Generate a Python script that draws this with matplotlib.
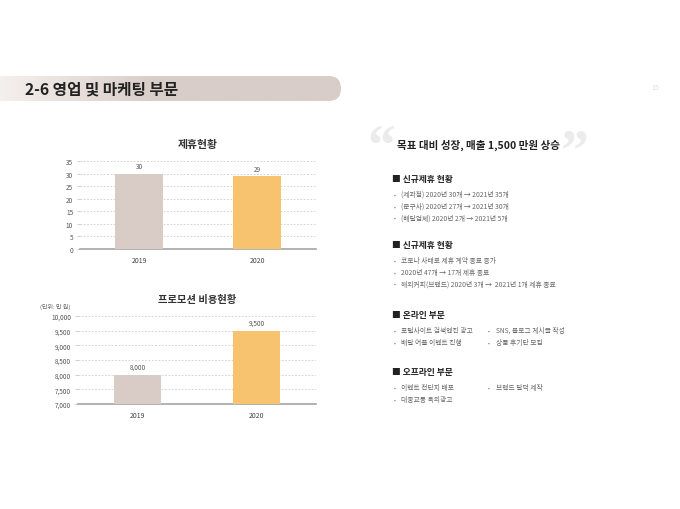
import matplotlib
matplotlib.use("Agg")
import matplotlib.pyplot as plt
import numpy as np
from matplotlib.patches import FancyBboxPatch
from matplotlib.ticker import FuncFormatter

plt.rcParams['font.family'] = ['Noto Sans CJK KR', 'DejaVu Sans']

# ---- data ----
years = ["2019", "2020"]
partner_counts = [30, 29]
promo_costs = [8000, 9500]
partner_ticks = [0, 5, 10, 15, 20, 25, 30, 35]
promo_ticks = [7000, 7500, 8000, 8500, 9000, 9500, 10000]
bar_colors = ["#D9CCC6", "#F7C36E"]

page_title = "2-6 영업 및 마케팅 부문"
chart1_title = "제휴현황"
chart2_title = "프로모션 비용현황"
unit_label = "(단위: 만 원)"
headline = "목표 대비 성장, 매출 1,500 만원 상승"
sections = [
    ("신규제휴 현황", ["(제과점) 2020년 30개 → 2021년 35개",
                    "(문구사) 2020년 27개 → 2021년 30개",
                    "(배달업체) 2020년 2개 → 2021년 5개"], None),
    ("신규제휴 현황", ["코로나 사태로 제휴 계약 종료 증가",
                    "2020년 47개 → 17개 제휴 종료",
                    "해외커피(브랜드) 2020년 3개 →  2021년 1개 제휴 종료"], None),
    ("온라인 부문", ["포털사이트 검색엔진 광고", "배달 어플 이벤트 진행"],
     ["SNS, 블로그 게시글 작성", "상품 후기단 모집"]),
    ("오프라인 부문", ["이벤트 전단지 배포", "대중교통 옥외광고"],
     ["브랜드 달력 제작"]),
]
section_y = [180, 246, 316, 373]

W, H = 680, 510
fig = plt.figure(figsize=(W / 100, H / 100), dpi=100)
fig.patch.set_facecolor("white")


def fx(x):
    return x / W


def fy(y):
    return 1 - y / H


# ---- banner ----
bax = fig.add_axes([0, 0, 1, 1], zorder=0)
bax.set_xlim(0, W)
bax.set_ylim(H, 0)
bax.axis("off")
grad = np.linspace(0, 1, 256)
grad = np.clip(grad * 2.2, 0, 1)
c0 = np.array([0xF4, 0xF0, 0xEE]) / 255
c1 = np.array([0xD9, 0xCD, 0xC8]) / 255
img = c0[None, None, :] * (1 - grad[None, :, None]) + c1[None, None, :] * grad[None, :, None]
im = bax.imshow(img, extent=[0, 341, 102, 77], aspect="auto", zorder=1)
clip = FancyBboxPatch((-20, 77), 361, 25, boxstyle="round,pad=0,rounding_size=12.5",
                      transform=bax.transData, facecolor="none", edgecolor="none")
bax.add_patch(clip)
im.set_clip_path(clip)
bax.text(25, 90, page_title, fontsize=11.3, fontweight="bold", color="#222222",
         va="center", ha="left")
bax.text(655, 88, "15", fontsize=5, color="#DDDDDD", va="center", ha="center")

# quotes
bax.text(395, 164, "\u201C", fontsize=40, color="#EBEBEB", ha="right", va="baseline",
         fontweight="bold", family="Liberation Serif")
bax.text(561, 169, "\u201D", fontsize=40, color="#EBEBEB", ha="left", va="baseline",
         fontweight="bold", family="Liberation Serif")
bax.text(397, 145, headline, fontsize=7.6, fontweight="bold", color="#222222",
         va="center", ha="left")

# sections
for (head, col1, col2), y0 in zip(sections, section_y):
    bax.text(392, y0, "■ " + head, fontsize=6.3, fontweight="bold", color="#222222",
             va="center", ha="left")
    for i, t in enumerate(col1):
        yy = y0 + 15 + i * 11.8
        bax.text(394, yy, "•", fontsize=4, color="#777777", va="center", ha="left")
        bax.text(401, yy, t, fontsize=4.85, color="#666666", va="center", ha="left")
    if col2:
        for i, t in enumerate(col2):
            yy = y0 + 15 + i * 11.8
            bax.text(488, yy, "•", fontsize=4, color="#777777", va="center", ha="left")
            bax.text(496, yy, t, fontsize=4.85, color="#666666", va="center", ha="left")


def bar_chart(rect, values, ticks, title, fmt, tsize):
    ax = fig.add_axes(rect, zorder=2)
    ax.set_facecolor("none")
    x = np.arange(len(years))
    ax.bar(x, values, width=0.4, color=bar_colors, zorder=3)
    ax.set_xlim(-0.5, 1.5)
    ax.set_ylim(ticks[0], ticks[-1])
    ax.set_yticks(ticks)
    ax.yaxis.set_major_formatter(FuncFormatter(lambda v, p: fmt(v)))
    ax.set_xticks(x)
    ax.set_xticklabels(years)
    ax.grid(axis="y", linestyle=(0, (2, 2)), color="#CCCCCC", linewidth=0.6, zorder=0)
    for s in ["top", "right", "left"]:
        ax.spines[s].set_visible(False)
    ax.spines["bottom"].set_color("#A6A6A6")
    ax.spines["bottom"].set_linewidth(1.2)
    ax.tick_params(axis="y", labelsize=4.6, colors="#555555", length=2, width=0.5,
                   color="#BBBBBB", pad=3)
    ax.tick_params(axis="x", labelsize=5, colors="#444444", length=0, pad=5)
    span = ticks[-1] - ticks[0]
    for xi, v in zip(x, values):
        ax.text(xi, v + span * 0.04, fmt(v), ha="center", va="bottom", fontsize=4.6,
                color="#555555")
    ax.set_title(title, fontsize=tsize, fontweight="bold", color="#333333", pad=10)
    return ax


bar_chart([fx(80), fy(250), fx(316) - fx(80), fy(162) - fy(250)],
          partner_counts, partner_ticks, chart1_title, lambda v: f"{int(v)}", 7.8)
bar_chart([fx(78), fy(405), fx(316) - fx(78), fy(317) - fy(405)],
          promo_costs, promo_ticks, chart2_title, lambda v: f"{int(v):,}", 7.4)
bax.text(40, 307, unit_label, fontsize=4.3, color="#666666", va="center", ha="left")

fig.savefig("out.png", dpi=100, facecolor="white")
